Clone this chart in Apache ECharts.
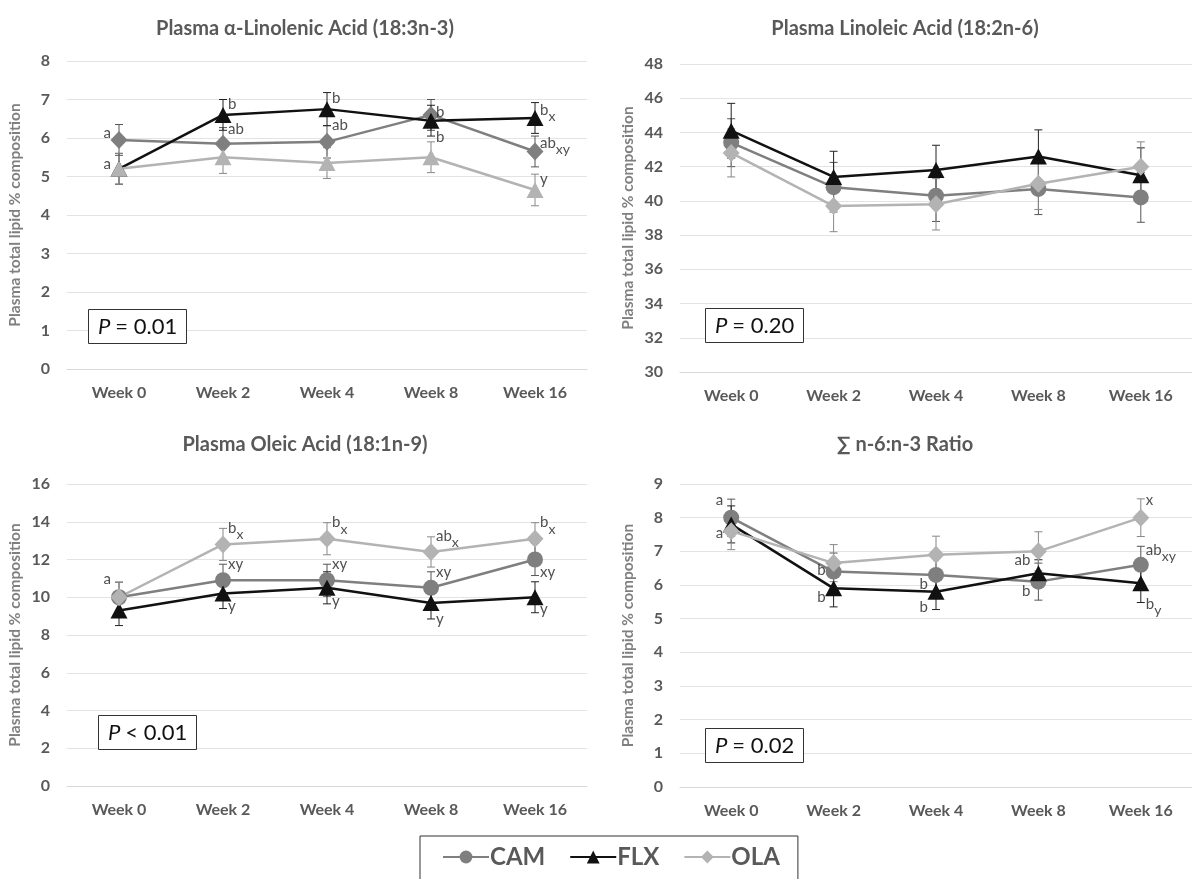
<!DOCTYPE html>
<html><head><meta charset="utf-8">
<script src="https://cdn.jsdelivr.net/npm/echarts@6/dist/echarts.min.js"></script>
<style>html,body{margin:0;padding:0;background:#fff}#c{width:1192px;height:879px}</style>
</head><body><div id="c"></div>
<script>
const weeks = ['Week 0', 'Week 2', 'Week 4', 'Week 8', 'Week 16'];

// Panel 1: Plasma alpha-Linolenic Acid
const alaCAM = [5.95, 5.85, 5.9, 6.6, 5.65];
const alaCAMerr = [0.4, 0.42, 0.42, 0.4, 0.4];
const alaFLX = [5.2, 6.6, 6.75, 6.45, 6.52];
const alaFLXerr = [0.4, 0.4, 0.43, 0.4, 0.4];
const alaOLA = [5.2, 5.5, 5.35, 5.5, 4.65];
const alaOLAerr = [0.4, 0.42, 0.4, 0.4, 0.41];
const alaNotes = [[0, 6.1, 'a', 'l'], [0, 5.3, 'a', 'l'], [1, 6.85, 'b', 'r'], [1, 6.2, 'ab', 'r'],
  [2, 7.0, 'b', 'r'], [2, 6.3, 'ab', 'r'], [3, 6.65, 'b', 'r'], [3, 6.0, 'b', 'r'],
  [4, 6.7, 'b_x', 'r'], [4, 5.85, 'ab_xy', 'r'], [4, 4.9, 'y', 'r']];

// Panel 2: Plasma Linoleic Acid
const laCAM = [43.4, 40.8, 40.3, 40.7, 40.2];
const laCAMerr = [1.4, 1.45, 1.5, 1.5, 1.45];
const laFLX = [44.1, 41.4, 41.8, 42.6, 41.5];
const laFLXerr = [1.6, 1.5, 1.45, 1.55, 1.6];
const laOLA = [42.8, 39.7, 39.8, 41.0, 42.0];
const laOLAerr = [1.4, 1.5, 1.5, 1.5, 1.45];
const laNotes = [];

// Panel 3: Plasma Oleic Acid
const oaCAM = [10.0, 10.9, 10.9, 10.5, 12.0];
const oaCAMerr = [0.8, 0.85, 0.85, 0.85, 0.85];
const oaFLX = [9.3, 10.2, 10.5, 9.7, 10.0];
const oaFLXerr = [0.8, 0.8, 0.85, 0.85, 0.82];
const oaOLA = [10.0, 12.8, 13.1, 12.4, 13.1];
const oaOLAerr = [0.8, 0.85, 0.85, 0.8, 0.85];
const oaNotes = [[0, 10.9, 'a', 'l'], [1, 13.6, 'b_x', 'r'], [1, 11.7, 'xy', 'r'], [1, 9.5, 'y', 'r'],
  [2, 13.9, 'b_x', 'r'], [2, 11.7, 'xy', 'r'], [2, 9.75, 'y', 'r'],
  [3, 13.2, 'ab_x', 'r'], [3, 11.3, 'xy', 'r'], [3, 8.8, 'y', 'r'],
  [4, 13.9, 'b_x', 'r'], [4, 11.3, 'xy', 'r'], [4, 9.3, 'y', 'r']];

// Panel 4: n-6:n-3 ratio
const rCAM = [8.0, 6.4, 6.3, 6.1, 6.6];
const rCAMerr = [0.55, 0.55, 0.55, 0.55, 0.55];
const rFLX = [7.8, 5.9, 5.8, 6.35, 6.05];
const rFLXerr = [0.55, 0.55, 0.53, 0.4, 0.57];
const rOLA = [7.6, 6.65, 6.9, 7.0, 8.0];
const rOLAerr = [0.55, 0.55, 0.55, 0.58, 0.56];
const rNotes = [[0, 8.5, 'a', 'l'], [0, 7.5, 'a', 'l'], [1, 6.4, 'b', 'l'], [1, 5.6, 'b', 'l'],
  [2, 6.0, 'b', 'l'], [2, 5.3, 'b', 'l'], [3, 6.7, 'ab', 'l'], [3, 5.8, 'b', 'l'],
  [4, 8.5, 'x', 'r'], [4, 7.0, 'ab_xy', 'r'], [4, 5.4, 'b_y', 'r']];

const titles = ['Plasma \u03b1-Linolenic Acid (18:3n-3)', 'Plasma Linoleic Acid (18:2n-6)',
  'Plasma Oleic Acid (18:1n-9)', '\u2211 n-6:n-3 Ratio'];
const pTexts = ['= 0.01', '= 0.20', '< 0.01', '= 0.02'];
const yMin = [0, 30, 0, 0];
const yMax = [8, 48, 16, 9];
const yStep = [1, 2, 2, 1];
const yName = 'Plasma total lipid % composition';

const FONT = 'Lato, "Open Sans", sans-serif';
const TXT = '#595959';
const C_CAM = '#7f7f7f', C_FLX = '#111111', C_OLA = '#b3b3b3';

const grids = [
  {left: 67, top: 61, width: 520, height: 308},
  {left: 680, top: 64, width: 520, height: 308},
  {left: 67, top: 484, width: 520, height: 302},
  {left: 680, top: 484, width: 520, height: 303}
];

const panels = [
  {cam: alaCAM, camE: alaCAMerr, flx: alaFLX, flxE: alaFLXerr, ola: alaOLA, olaE: alaOLAerr, notes: alaNotes,
   sym: {CAM: 'diamond', FLX: 'triangle', OLA: 'triangle'}},
  {cam: laCAM, camE: laCAMerr, flx: laFLX, flxE: laFLXerr, ola: laOLA, olaE: laOLAerr, notes: laNotes,
   sym: {CAM: 'circle', FLX: 'triangle', OLA: 'diamond'}},
  {cam: oaCAM, camE: oaCAMerr, flx: oaFLX, flxE: oaFLXerr, ola: oaOLA, olaE: oaOLAerr, notes: oaNotes,
   sym: {CAM: 'circle', FLX: 'triangle', OLA: 'diamond'}},
  {cam: rCAM, camE: rCAMerr, flx: rFLX, flxE: rFLXerr, ola: rOLA, olaE: rOLAerr, notes: rNotes,
   sym: {CAM: 'circle', FLX: 'triangle', OLA: 'diamond'}}
];

function symSize(s) {
  if (s === 'triangle') return [17, 16];
  if (s === 'diamond') return [17, 18];
  return 16;
}

function errSeries(idx, vals, errs, color) {
  return {
    type: 'custom', xAxisIndex: idx, yAxisIndex: idx, silent: true, z: 1,
    data: vals.map((v, i) => [i, v - errs[i], v + errs[i]]),
    renderItem: function (params, api) {
      const x = api.value(0);
      const p1 = api.coord([x, api.value(2)]);
      const p2 = api.coord([x, api.value(1)]);
      const w = 4;
      const st = {stroke: color, lineWidth: 1};
      return {type: 'group', children: [
        {type: 'line', shape: {x1: p1[0], y1: p1[1], x2: p2[0], y2: p2[1]}, style: st},
        {type: 'line', shape: {x1: p1[0] - w, y1: p1[1], x2: p1[0] + w, y2: p1[1]}, style: st},
        {type: 'line', shape: {x1: p2[0] - w, y1: p2[1], x2: p2[0] + w, y2: p2[1]}, style: st}
      ]};
    }
  };
}

function lineSeries(idx, name, vals, color, sym) {
  return {
    type: 'line', name: name, xAxisIndex: idx, yAxisIndex: idx, data: vals, z: 3,
    symbol: sym, symbolSize: symSize(sym),
    lineStyle: {color: color, width: 2.5}, itemStyle: {color: color},
    animation: false
  };
}

function noteFormatter(t) {
  const parts = t.split('_');
  return parts.length > 1 ? '{n|' + parts[0] + '}{s|' + parts[1] + '}' : '{n|' + parts[0] + '}';
}

function noteSeries(idx, notes) {
  return {
    type: 'scatter', xAxisIndex: idx, yAxisIndex: idx, symbolSize: 0, silent: true, z: 5,
    data: notes.map(n => ({
      value: [n[0], n[1]],
      label: {
        show: true, position: n[3] === 'l' ? 'left' : 'right', distance: n[3] === 'l' ? 8 : 5,
        formatter: noteFormatter(n[2])
      }
    })),
    label: {
      color: '#222', fontFamily: FONT,
      rich: {
        n: {fontSize: 15, color: '#222', fontFamily: FONT, verticalAlign: 'top', lineHeight: 17},
        s: {fontSize: 14, color: '#222', fontFamily: FONT, verticalAlign: 'top', lineHeight: 17, padding: [7, 0, 0, 0]}
      }
    },
    animation: false
  };
}

const series = [];
const order = [1, 0, 2, 3];
order.forEach(idx => {
  const p = panels[idx];
  series.push(errSeries(idx, p.cam, p.camE, '#555'));
  series.push(errSeries(idx, p.flx, p.flxE, '#222'));
  series.push(errSeries(idx, p.ola, p.olaE, '#888'));
  series.push(lineSeries(idx, 'CAM', p.cam, C_CAM, p.sym.CAM));
  series.push(lineSeries(idx, 'FLX', p.flx, C_FLX, p.sym.FLX));
  series.push(lineSeries(idx, 'OLA', p.ola, C_OLA, p.sym.OLA));
  if (p.notes.length) series.push(noteSeries(idx, p.notes));
});

const titleComps = [];
const titleX = [300, 900, 300, 900];
const titleY = [14, 14, 430, 430];
titles.forEach((t, i) => {
  titleComps.push({
    text: t, left: titleX[i], top: titleY[i], textAlign: 'center',
    textStyle: {fontFamily: FONT, fontSize: 20, fontWeight: 'bold', color: TXT}
  });
});
const boxX = [88, 705, 98, 705];
const boxY = [309, 308, 715, 728];
pTexts.forEach((t, i) => {
  titleComps.push({
    text: '{i|P} {r|' + t + '}', left: boxX[i], top: boxY[i],
    borderColor: '#333', borderWidth: 1, padding: [7, 10, 6, 10], backgroundColor: '#fff',
    textStyle: {
      fontWeight: 'normal',
      rich: {
        i: {fontFamily: FONT, fontSize: 22, fontStyle: 'italic', fontWeight: 'normal', color: '#111'},
        r: {fontFamily: FONT, fontSize: 22, fontWeight: 'normal', color: '#111'}
      }
    }
  });
});

const option = {
  backgroundColor: '#fff',
  animation: false,
  title: titleComps,
  grid: grids,
  legend: {
    data: ['CAM', 'FLX', 'OLA'], left: 420, top: 836, width: 376,
    padding: [9, 18, 20, 22], itemGap: 24, itemWidth: 46, itemHeight: 16,
    borderColor: '#333', borderWidth: 1,
    textStyle: {fontFamily: FONT, fontSize: 24, fontWeight: 'bold', color: TXT, padding: [0, 0, 0, -4]}
  },
  xAxis: grids.map((g, i) => ({
    type: 'category', gridIndex: i, data: weeks, boundaryGap: true,
    axisLine: {show: true, lineStyle: {color: '#d9d9d9'}}, axisTick: {show: false},
    axisLabel: {fontFamily: FONT, fontSize: 16, fontWeight: 'bold', color: TXT, margin: 16}
  })),
  yAxis: grids.map((g, i) => ({
    type: 'value', gridIndex: i, min: yMin[i], max: yMax[i], interval: yStep[i],
    name: yName, nameLocation: 'middle', nameGap: 44,
    nameTextStyle: {fontFamily: FONT, fontSize: 15.5, fontWeight: 'bold', color: '#7f7f7f'},
    axisLine: {show: false}, axisTick: {show: false},
    splitLine: {lineStyle: {color: '#e3e3e3'}},
    axisLabel: {fontFamily: FONT, fontSize: 16, fontWeight: 'bold', color: TXT, margin: 17}
  })),
  series: series
};

const chart = echarts.init(document.getElementById('c'), null, {renderer: 'canvas'});
chart.setOption(option);
</script>
</body></html>
